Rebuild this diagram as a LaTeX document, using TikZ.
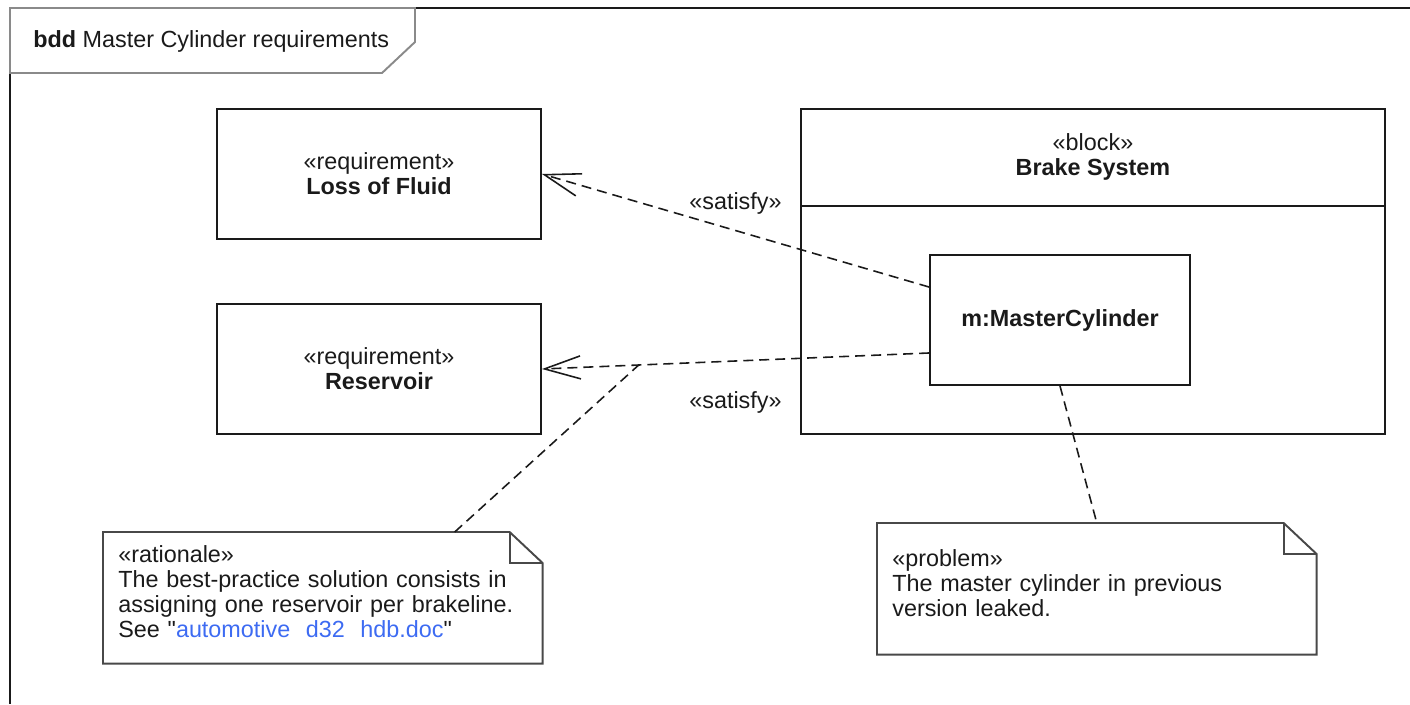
\documentclass[tikz,border=0pt]{standalone}
\usepackage{fontspec}
\setmainfont{Liberation Sans}
\font\qtfont="Liberation Sans" at 13.3pt
\usepackage{xcolor}
\usepackage{tikz}
\usetikzlibrary{calc,arrows.meta}
\definecolor{ink}{HTML}{1A1A1A}
\definecolor{tabgray}{HTML}{8A8A8A}
\definecolor{link}{HTML}{3D6BF2}
\tikzset{
  frame/.style={draw=ink, line width=1.1pt},
  tabline/.style={draw=tabgray, line width=1.1pt},
  blockbox/.style={draw=ink, line width=1.1pt, align=center, inner sep=0pt},
  notebox/.style={anchor=north west, align=left, inner xsep=0.3cm, inner ysep=0pt,
    minimum width=8.78cm, minimum height=2.62cm, text width=8.18cm,
    execute at end node={\par\vspace{0.24cm}}},
  noteline/.style={draw=ink!80, line width=1.1pt},
  satisfy/.style={draw=ink, dash pattern=on 0.2cm off 0.12cm, line width=0.9pt,
    -{Straight Barb[length=0.72cm,width=0.46cm]}},
  anchorline/.style={draw=ink, dash pattern=on 0.2cm off 0.12cm, line width=0.9pt},
  lbl/.style={inner sep=0pt},
  every node/.style={font=\fontsize{13.3}{14.2}\selectfont, text=ink}
}
\newcommand{\NoteFrame}[1]{%
  \draw[noteline] (#1.north west) -- ([xshift=-0.66cm]#1.north east)
    -- ([yshift=-0.62cm]#1.north east) -- (#1.south east) -- (#1.south west) -- cycle;
  \draw[noteline] ([xshift=-0.66cm]#1.north east) -- ([xshift=-0.66cm,yshift=-0.62cm]#1.north east)
    -- ([yshift=-0.62cm]#1.north east);
}
\newcommand{\dq}{{\qtfont\char34}}

\begin{document}
\begin{tikzpicture}[x=0.02cm, y=-0.02cm]
  \useasboundingbox (0,0) rectangle (1410,704);

  % frame and name tab
  \coordinate (tabR) at (415,8);
  \draw[frame] (tabR) -- (1410,8);
  \draw[frame] (10,73) -- (10,704);
  \draw[tabline] (10,8) -- (tabR) -- (415,42) -- (382,73) -- (10,73) -- cycle;
  \node[anchor=west, inner sep=0pt] (diag) at (33,41) {\textbf{bdd} Master Cylinder requirements};

  % requirements
  \node[blockbox, minimum width=6.48cm, minimum height=2.6cm] (lof) at (379,174)
    {«requirement»\\\textbf{Loss of Fluid}};
  \node[blockbox, minimum width=6.48cm, minimum height=2.6cm] (res) at (379,369)
    {«requirement»\\\textbf{Reservoir}};

  % block with its part
  \node[blockbox, minimum width=11.68cm, minimum height=6.5cm] (bs) at (1093,271.5) {};
  \draw[frame] ($(bs.north west)+(0,98)$) -- ($(bs.north east)+(0,98)$);
  \node[align=center] (bst) at ($(bs.north)+(0,49)$) {«block»\\\textbf{Brake System}};
  \node[blockbox, minimum width=5.2cm, minimum height=2.6cm] (mc) at (1060,320)
    {\textbf{m:MasterCylinder}};

  % notes
  \node[notebox] (rat) at (103,532)
    {«rationale»\\The best-practice solution consists in\\assigning one reservoir per brakeline.\\
     See \dq\textcolor{link}{automotive\ \ d32\ \ hdb.doc}\dq};
  \NoteFrame{rat}
  \node[notebox] (prob) at (877,523)
    {«problem»\\The master cylinder in previous\\version leaked.};
  \NoteFrame{prob}

  % satisfy links
  \coordinate (mcA) at ($(mc.north west)!0.25!(mc.south west)$);
  \coordinate (mcB) at ($(mc.north west)!0.75!(mc.south west)$);
  \draw[satisfy] (mcA) -- (lof.east) node[lbl, midway, yshift=0.54cm] (sat1) {«satisfy»};
  \draw[satisfy] (mcB) -- (res.east) node[lbl, midway, yshift=-0.83cm] (sat2) {«satisfy»};

  % note anchors
  \coordinate (ratA) at ($(res.east)!0.25!(mcB)$);
  \draw[anchorline] ($(rat.north west)!0.8!(rat.north east)$) -- (ratA);
  \draw[anchorline] (mc.south) -- (prob.north);
\end{tikzpicture}
\end{document}
